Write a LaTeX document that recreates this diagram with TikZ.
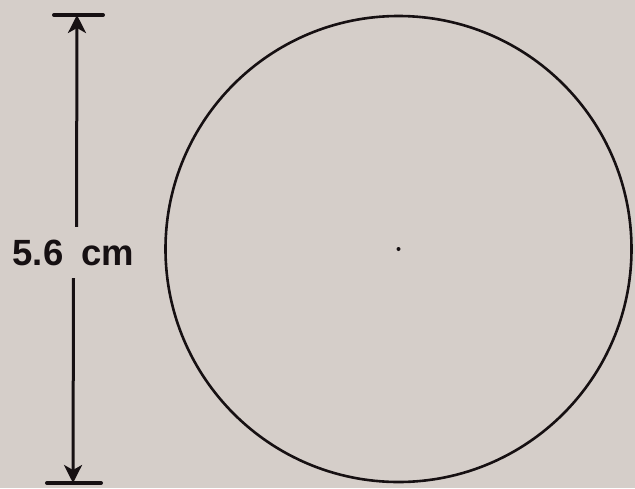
\documentclass[tikz,border=0pt]{standalone}
\usepackage{fontspec}
\setmainfont{Liberation Sans}
\usetikzlibrary{arrows.meta}
\definecolor{paper}{RGB}{213,206,201}
\definecolor{ink}{RGB}{22,16,18}
\begin{document}
\begin{tikzpicture}[x=1pt,y=-1pt,
  dimline/.style={draw=ink,line width=3pt,-{Stealth[length=18pt,width=18pt,inset=5pt]}},
  tickbar/.style={draw=ink,line width=4pt,line cap=round},
  lbl/.style={font=\bfseries\fontsize{36.5}{40}\selectfont,text=ink,inner sep=0pt,minimum height=51pt},
  disk/.style={circle,draw=ink,line width=2.6pt,minimum size=466pt,inner sep=0pt}]
\fill[paper] (0,0) rectangle (635,488);
\useasboundingbox (0,0) rectangle (635,488);
\coordinate (topL) at (54,15);
\coordinate (topR) at (103,15);
\coordinate (top) at (77,15);
\coordinate (botL) at (47,483);
\coordinate (botR) at (101,483);
\coordinate (bot) at (73,483);
\node[lbl] (label) at (73.5,252.5) {5.6\hspace{0.5em}cm};
\draw[tickbar] (topL) -- (topR);
\draw[tickbar] (botL) -- (botR);
\draw[dimline] (label.north -| top) ++(-0.5,0) coordinate (lt) (lt) -- (top);
\draw[dimline] (label.south -| bot) ++(0.5,0) coordinate (lb) (lb) -- (bot);
\node[disk] (circ) at (398.5,249) {};
\fill[ink] (circ.center) circle (2pt);
\end{tikzpicture}
\end{document}
